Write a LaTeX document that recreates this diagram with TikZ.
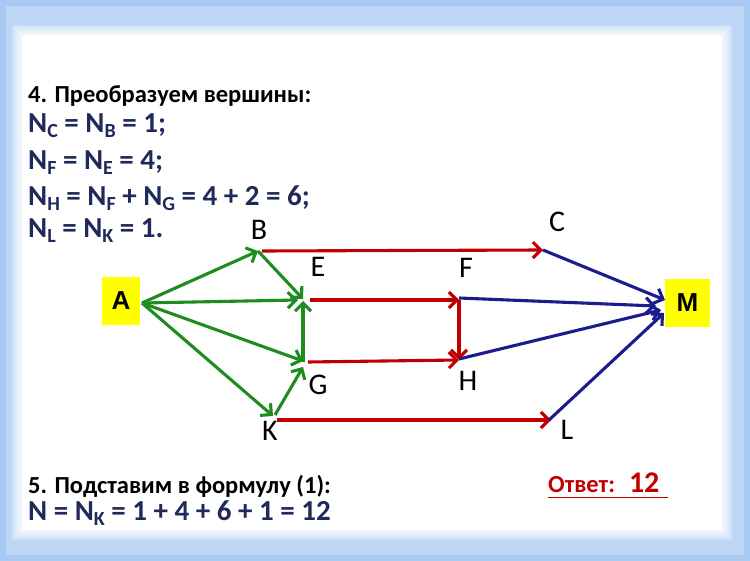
\documentclass[tikz,border=0pt]{standalone}
\usepackage{fontspec}
\setmainfont{Carlito}
\newfontfamily\arialf{Liberation Sans}
\usetikzlibrary{arrows.meta}
\definecolor{bgblue}{HTML}{A7C9F3}
\definecolor{gr}{HTML}{1E8C1E}
\definecolor{rd}{HTML}{C00000}
\definecolor{bl}{HTML}{1C1C8E}
\definecolor{navy}{HTML}{1F2A5A}
\definecolor{ylw}{HTML}{FFFF00}
\newcommand\mysub[1]{\raisebox{-5pt}{\fontsize{20}{20}\selectfont #1}}
\begin{document}
\begin{tikzpicture}[x=1pt,y=-1pt,
  arr/.style={line width=3.1pt, -{Straight Barb[length=8pt,width=16pt]}},
  garr/.style={arr, gr},
  rarr/.style={arr, rd},
  barr/.style={arr, bl},
  head/.style={anchor=base west, inner sep=0pt, text depth=4pt, font=\fontsize{24.5}{24.5}\selectfont\bfseries, text=black},
  eq/.style={anchor=base west, inner sep=0pt, text height=18pt, font=\fontsize{29}{29}\selectfont\bfseries, text=navy},
  lbl/.style={anchor=base, inner sep=0pt, font=\fontsize{30}{30}\selectfont, text=black},
  ybox/.style={fill=ylw, inner sep=0pt, font=\arialf\fontsize{26}{26}\selectfont\bfseries}
]
\useasboundingbox (0,0) rectangle (750,561);
% background frame
\fill[bgblue] (0,0) rectangle (750,561);
\fill[white, opacity=0.25] (6,6) rectangle (744,555);
\foreach \d in {10,8,6,4,2}{
  \fill[white, opacity=0.25] (22-\d,35-\d) rectangle (722+\d,530+\d);
}
\fill[white] (22,35) rectangle (722,530);

% texts
\node[head] (t1) at (28,103) {4. Преобразуем вершины:};
\node[eq] (t2) at (28,133) {N\mysub{C} = N\mysub{B} = 1;};
\node[eq] (t3) at (28,170) {N\mysub{F} = N\mysub{E} = 4;};
\node[eq] (t4) at (28,206) {N\mysub{H} = N\mysub{F} + N\mysub{G} = 4 + 2 = 6;};
\node[eq] (t5) at (28,238) {N\mysub{L} = N\mysub{K} = 1.};
\node[head] (t6) at (28,493) {5. Подставим в формулу (1):};
\node[eq] (t7) at (28,520) {N = N\mysub{K} = 1 + 4 + 6 + 1 = 12};
\node[anchor=base west, inner sep=0pt, text=rd, font=\fontsize{24.5}{24.5}\selectfont\bfseries] (ans) at (548,492) {Ответ:\hspace{14pt}{\fontsize{30}{30}\selectfont 12}};
\draw[rd, line width=1.8pt] (548,497.5) -- (668,497.5);

% boxes
\node[ybox, minimum width=38pt, minimum height=48pt] (A) at (121,301) {A};
\node[ybox, minimum width=45pt, minimum height=48pt] (M) at (687.5,303) {M};

% points
\coordinate (pA) at (142,303);
\coordinate (pB) at (258,251);
\coordinate (pE) at (303,300);
\coordinate (pG) at (303,362);
\coordinate (pK) at (273,415);
\coordinate (pC) at (543,250);
\coordinate (pF) at (459,300);
\coordinate (pH) at (459,360);
\coordinate (pL) at (551,420);
\coordinate (mC) at (665,300);
\coordinate (mF) at (656,306);
\coordinate (mH) at (661,310);
\coordinate (mL) at (664,313);

% labels
\node[lbl] (lB) at (259,240) {B};
\node[lbl] (lC) at (557,232) {C};
\node[lbl] (lE) at (318,277) {E};
\node[lbl] (lF) at (466,278) {F};
\node[lbl] (lG) at (318,395) {G};
\node[lbl] (lH) at (468,390) {H};
\node[lbl] (lK) at (270,440) {K};
\node[lbl] (lL) at (567,439) {L};

% red
\draw[rarr] ([xshift=4pt]pB) -- (pC);
\draw[rarr] ([xshift=7pt]pE) -- (pF);
\draw[rarr] ([xshift=5pt]pG) -- (pH);
\draw[rarr] ([shift={(4pt,-5pt)}]pK) -- (pL);
\draw[rarr] (pF) -- (pH);

% blue
\draw[barr] (pC) -- (mC);
\draw[barr] ([yshift=2pt]pF) -- (mF);
\draw[barr] ([yshift=1pt]pH) -- (mH);
\draw[barr] ([xshift=-2pt]pL) -- (mL);

% green
\draw[garr] (pA) -- (pB);
\draw[garr] (pA) -- ([xshift=-5pt]pE);
\draw[garr] (pA) -- ([yshift=1pt]pG);
\draw[garr] (pA) -- ([yshift=-1pt]pK);
\draw[garr] (pB) -- ([yshift=1pt]pE);
\draw[garr] (pG) -- ([yshift=-1pt]pE);
\draw[garr] ([xshift=2pt]pK) -- ([yshift=-5pt]pG);
\end{tikzpicture}
\end{document}
